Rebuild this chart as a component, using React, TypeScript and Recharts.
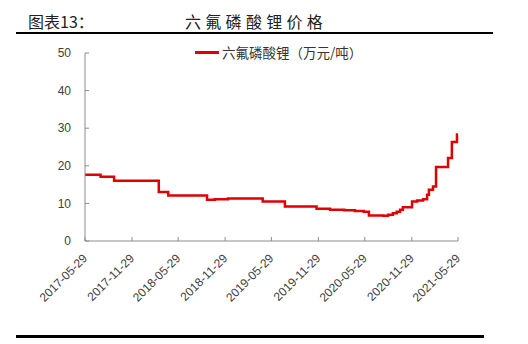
import React from "react";
import { LineChart, Line, XAxis, YAxis } from "recharts";

const seriesName = "六氟磷酸锂（万元/吨）";

const priceDates = [
  "2017-05-29", "2017-07-29", "2017-09-20", "2018-03-14", "2018-04-20",
  "2018-09-19", "2018-10-20", "2018-12-10", "2019-04-25", "2019-07-21",
  "2019-11-22", "2020-01-14", "2020-03-10", "2020-04-20", "2020-05-25",
  "2020-06-14", "2020-08-10", "2020-08-28", "2020-09-16", "2020-10-01",
  "2020-10-14", "2020-10-25", "2020-11-30", "2020-12-20", "2021-01-12",
  "2021-01-28", "2021-02-04", "2021-02-20", "2021-03-04", "2021-04-20",
  "2021-05-05", "2021-05-25", "2021-05-29",
];

const priceValues = [
  17.6, 17.1, 16.0, 13.0, 12.1,
  11.0, 11.1, 11.3, 10.5, 9.2,
  8.6, 8.3, 8.2, 8.0, 7.8,
  6.8, 6.7, 7.0, 7.4, 7.8,
  8.3, 9.0, 10.5, 10.8, 11.1,
  12.3, 13.6, 14.5, 19.7, 22.1,
  26.3, 28.3, 28.3,
];

const xTickLabels = [
  "2017-05-29", "2017-11-29", "2018-05-29", "2018-11-29", "2019-05-29",
  "2019-11-29", "2020-05-29", "2020-11-29", "2021-05-29",
];

const yTicks = [0, 10, 20, 30, 40, 50];

const toTs = (s: string) => Date.parse(s + "T00:00:00Z");

const data = priceDates.map((d, i) => ({ t: toTs(d), price: priceValues[i] }));
const xTicks = xTickLabels.map(toTs);

const fmtDate = (v: number) => new Date(v).toISOString().slice(0, 10);

const axisColor = "#8c8c8c";
const labelColor = "#404040";
const lineColor = "#e00000";
const cjk = "'Noto Sans CJK SC', sans-serif";

function YTick(props: any) {
  const { x, y, payload } = props;
  return (
    <g>
      <line x1={x} x2={x + 4} y1={y} y2={y} stroke={axisColor} strokeWidth={1} />
      <text x={x - 14} y={y} dy="0.35em" textAnchor="end" fill={labelColor}
        fontSize={12} fontFamily="Liberation Sans, Arial, sans-serif">
        {payload.value}
      </text>
    </g>
  );
}

function XTick(props: any) {
  const { x, y, payload } = props;
  return (
    <g>
      <line x1={x} x2={x} y1={y} y2={y - 4} stroke={axisColor} strokeWidth={1} />
      <text transform={`translate(${x},${y + 15}) rotate(-45)`} textAnchor="end"
        dy="0.35em" fill={labelColor} fontSize={12}
        fontFamily="Liberation Sans, Arial, sans-serif">
        {fmtDate(payload.value)}
      </text>
    </g>
  );
}

export default function App() {
  return (
    <div style={{ position: "absolute", left: 0, top: 0, width: 528, height: 344, background: "#fff", overflow: "hidden" }}>
      <div style={{ position: "absolute", left: 28, top: 9, fontFamily: cjk, fontSize: 16, color: "#222", lineHeight: "24px" }}>
        图表13：
      </div>
      <div style={{ position: "absolute", left: 185, top: 9, fontFamily: cjk, fontSize: 16, color: "#222", lineHeight: "24px", letterSpacing: 4.3 }}>
        六氟磷酸锂价格
      </div>
      <div style={{ position: "absolute", left: 16, top: 32, width: 477, height: 2, background: "#000" }} />
      <div style={{ position: "absolute", left: 16, top: 335, width: 468, height: 3, background: "#000" }} />
      <div style={{ position: "absolute", left: 0, top: 0 }}>
        <LineChart width={528} height={344} data={data} margin={{ top: 53, right: 70, bottom: 43, left: 45 }}>
          <XAxis
            dataKey="t"
            type="number"
            scale="time"
            domain={[xTicks[0], xTicks[xTicks.length - 1]]}
            ticks={xTicks}
            interval={0}
            tickLine={false}
            tickSize={0}
            tickMargin={0}
            height={60}
            stroke={axisColor}
            tick={<XTick />}
          />
          <YAxis
            domain={[0, 50]}
            ticks={yTicks}
            interval={0}
            width={40}
            tickLine={false}
            tickSize={0}
            tickMargin={0}
            stroke={axisColor}
            tick={<YTick />}
          />
          <Line
            type="stepAfter"
            dataKey="price"
            name={seriesName}
            stroke={lineColor}
            strokeWidth={2.5}
            dot={false}
            isAnimationActive={false}
          />
        </LineChart>
      </div>
      <div style={{ position: "absolute", left: 195, top: 43, display: "flex", alignItems: "center", fontFamily: cjk, fontSize: 13.5, color: "#333", lineHeight: "18px" }}>
        <span style={{ display: "inline-block", width: 24, height: 3, background: lineColor, marginRight: 3 }} />
        <span>{seriesName}</span>
      </div>
    </div>
  );
}
